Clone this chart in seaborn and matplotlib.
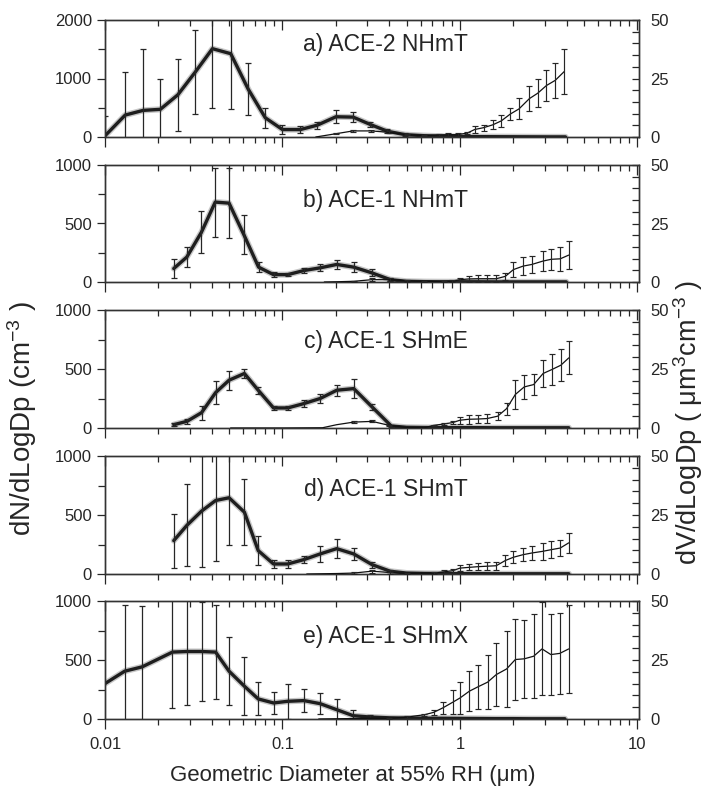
import numpy as np
import pandas as pd
import matplotlib
matplotlib.use("Agg")
import matplotlib.pyplot as plt
from matplotlib.ticker import MultipleLocator, LogLocator, NullFormatter, FixedLocator
import seaborn as sns

# ---------------- data ----------------
panel_titles = ["a) ACE-2 NHmT", "b) ACE-1 NHmT", "c) ACE-1 SHmE", "d) ACE-1 SHmT", "e) ACE-1 SHmX"]

# panel a
dp_num_a = [0.0100, 0.0130, 0.0164, 0.0205, 0.0257, 0.0322, 0.0403, 0.0511, 0.0641, 0.0800, 0.100, 0.126, 0.157,
            0.200, 0.250, 0.313, 0.390, 0.490, 0.620, 0.79, 1.0, 1.26, 1.58, 2.0, 2.51, 3.16, 3.93]
dn_a = [20, 375, 455, 473, 720, 1107, 1510, 1424, 818, 329, 127, 127, 202, 346, 340, 213, 98, 40, 23,
        12, 8, 6, 5, 4, 3, 2, 2]
dn_err_a = [340, 730, 1055, 520, 620, 720, 1010, 950, 450, 175, 75, 58, 58, 110, 86, 49, 35, 20, 12,
            0, 0, 0, 0, 0, 0, 0, 0]
dp_vol_a = [0.154, 0.200, 0.250, 0.316, 0.398, 0.50, 0.63, 0.76, 0.86, 0.97, 1.10, 1.21, 1.36, 1.53, 1.71,
            1.92, 2.15, 2.46, 2.74, 3.07, 3.44, 3.87]
dv_a = [0.0, 1.4, 2.6, 2.6, 2.0, 1.0, 0.6, 0.9, 1.0, 1.0, 1.7, 3.2, 4.0, 5.2, 6.9, 9.8, 12.0, 16.4, 18.7,
        22.0, 24.2, 28.0]
dv_err_a = [0, 0.3, 0.5, 0.5, 0.4, 0.3, 0.3, 0.5, 0.5, 0.5, 0.5, 1.6, 1.3, 1.9, 2.5, 2.7, 4.5, 5.4, 6.0,
            6.5, 7.5, 9.7]

# panel b
dp_num_b = [0.0244, 0.0289, 0.0349, 0.0418, 0.0500, 0.0604, 0.0733, 0.0890, 0.107, 0.132, 0.163, 0.202,
            0.252, 0.319, 0.405, 0.50, 0.63, 0.79, 1.0, 1.26, 1.58, 2.0, 2.51, 3.16, 3.97]
dn_b = [115, 213, 424, 683, 674, 409, 127, 63, 63, 98, 121, 150, 127, 78, 20, 6, 3, 2, 2, 2, 1, 1, 1, 1, 1]
dn_err_b = [82, 84, 180, 295, 300, 167, 43, 20, 12, 18, 30, 42, 40, 30, 10, 0, 0, 0, 0, 0, 0, 0, 0, 0, 0]
dp_vol_b = [0.172, 0.202, 0.252, 0.319, 0.405, 0.50, 0.63, 0.81, 0.90, 1.0, 1.12, 1.26, 1.42, 1.60, 1.80,
            2.0, 2.27, 2.54, 2.92, 3.26, 3.67, 4.1]
dv_b = [0.0, 0.1, 0.3, 1.0, 1.0, 0.5, 0.2, 0.2, 0.4, 1.0, 1.3, 1.4, 1.4, 1.4, 2.4, 5.3, 6.8, 7.5, 8.9, 9.7,
        9.9, 11.5]
dv_err_b = [0, 0, 0.2, 0.6, 0.5, 0.3, 0.2, 0.3, 0.4, 0.7, 1.3, 1.4, 1.4, 1.4, 1.5, 3.2, 4.0, 3.6, 4.2, 4.5,
            5.0, 5.9]

# panel c
dp_num_c = [0.0244, 0.029, 0.035, 0.042, 0.050, 0.061, 0.073, 0.089, 0.107, 0.132, 0.163, 0.202, 0.252,
            0.32, 0.41, 0.50, 0.63, 0.79, 1.0, 1.26, 1.58, 2.0, 2.51, 3.16, 4.1]
dn_c = [28, 57, 130, 300, 405, 462, 320, 170, 170, 207, 250, 320, 334, 178, 17, 6, 4, 3, 3, 3, 2, 2, 2, 2, 2]
dn_err_c = [15, 20, 60, 100, 80, 40, 30, 20, 20, 33, 35, 45, 80, 25, 8, 0, 0, 0, 0, 0, 0, 0, 0, 0, 0]
dp_vol_c = [0.051, 0.10, 0.168, 0.202, 0.252, 0.32, 0.40, 0.50, 0.63, 0.71, 0.81, 0.91, 1.0, 1.12, 1.26,
            1.42, 1.63, 1.83, 2.05, 2.3, 2.6, 2.94, 3.3, 3.7, 4.1]
dv_c = [0, 0, 0.1, 1.4, 2.5, 2.8, 1.1, 0.2, 0.1, 1.1, 1.7, 2.3, 3.3, 3.7, 3.8, 4.0, 5.0, 8.2, 14.2, 17.4,
        18.4, 23.1, 24.8, 26.6, 29.7]
dv_err_c = [0, 0, 0, 0, 0.3, 0.4, 0.3, 0, 0, 0.3, 0.4, 0.5, 1.4, 1.8, 1.8, 1.8, 1.8, 2.5, 6.0, 5.0, 4.6,
            5.7, 6.7, 6.7, 7.0]

# panel d
dp_num_d = [0.0244, 0.029, 0.035, 0.042, 0.050, 0.061, 0.073, 0.089, 0.107, 0.132, 0.163, 0.202, 0.252,
            0.32, 0.405, 0.50, 0.63, 0.79, 1.0, 1.26, 1.58, 2.0, 2.51, 3.16, 4.1]
dn_d = [283, 414, 533, 623, 646, 524, 198, 85, 85, 122, 170, 215, 170, 79, 23, 8, 5, 4, 3, 3, 2, 2, 2, 2, 2]
dn_err_d = [228, 350, 470, 510, 400, 280, 120, 35, 30, 30, 65, 80, 50, 25, 10, 0, 0, 0, 0, 0, 0, 0, 0, 0, 0]
dp_vol_d = [0.137, 0.202, 0.252, 0.32, 0.405, 0.50, 0.71, 0.81, 0.91, 1.0, 1.12, 1.26, 1.42, 1.60, 1.80,
            2.0, 2.27, 2.54, 2.92, 3.26, 3.67, 4.1]
dv_d = [0, 0.2, 0.4, 1.2, 0.6, 0.3, 0.4, 0.9, 1.4, 2.5, 2.8, 3.1, 3.3, 3.5, 5.7, 7.1, 8.2, 8.9, 9.6, 10.3,
        11.0, 13.2]
dv_err_d = [0, 0, 0.3, 0.6, 0.4, 0.3, 0.5, 0.6, 0.8, 1.2, 1.3, 1.5, 1.6, 1.7, 2.5, 2.6, 2.7, 3.0, 3.5, 3.7,
            3.5, 4.3]

# panel e
dp_num_e = [0.0100, 0.0129, 0.0162, 0.024, 0.029, 0.035, 0.042, 0.050, 0.061, 0.073, 0.089, 0.107, 0.132,
            0.163, 0.202, 0.25, 0.31, 0.40, 0.50, 0.63, 0.79, 1.0, 1.26, 1.58, 2.0, 2.51, 3.16, 3.9]
dn_e = [300, 405, 442, 567, 572, 572, 567, 405, 278, 170, 136, 150, 156, 130, 79, 28, 17, 10, 8, 7, 6, 5, 4,
        3, 3, 2, 2, 2]
dn_err_e = [0, 560, 515, 478, 450, 420, 395, 290, 245, 140, 90, 150, 95, 90, 90, 45, 15, 0, 0, 0, 0, 0, 0,
            0, 0, 0, 0, 0]
dp_vol_e = [0.16, 0.20, 0.25, 0.32, 0.40, 0.50, 0.63, 0.71, 0.80, 0.91, 1.0, 1.13, 1.26, 1.43, 1.60, 1.83,
            2.05, 2.3, 2.6, 2.9, 3.25, 3.65, 4.1]
dv_e = [0, 0.1, 0.2, 0.3, 0.3, 0.8, 1.8, 2.8, 4.7, 7.1, 8.9, 11.8, 13.6, 15.6, 18.8, 21.2, 25.2, 25.5, 26.6,
        29.7, 27.3, 27.8, 29.7]
dv_err_e = [0, 0, 0, 0, 0.3, 0.5, 0.5, 1.0, 2.6, 5.0, 6.6, 8.5, 9.2, 11.5, 13.5, 16.0, 17.0, 16.6, 17.7,
            19.7, 17.0, 17.3, 18.6]

left_ylim = [2000, 1000, 1000, 1000, 1000]
right_ylim = [50, 50, 50, 50, 50]
x_tick_labels = ["0.01", "0.1", "1", "10"]
x_label = "Geometric Diameter at 55% RH (\u03bcm)"
y_label_left = "dN/dLogDp (cm$^{\\mathrm{-3}}$ )"
y_label_right = "dV/dLogDp ( \u03bcm$^{\\mathrm{3}}$cm$^{\\mathrm{-3}}$ )"

panels = [
    (dp_num_a, dn_a, dn_err_a, dp_vol_a, dv_a, dv_err_a),
    (dp_num_b, dn_b, dn_err_b, dp_vol_b, dv_b, dv_err_b),
    (dp_num_c, dn_c, dn_err_c, dp_vol_c, dv_c, dv_err_c),
    (dp_num_d, dn_d, dn_err_d, dp_vol_d, dv_d, dv_err_d),
    (dp_num_e, dn_e, dn_err_e, dp_vol_e, dv_e, dv_err_e),
]

# ---------------- style ----------------
sns.set_style("ticks")
plt.rcParams["font.family"] = ["Liberation Sans", "DejaVu Sans"]
plt.rcParams["mathtext.fontset"] = "custom"
plt.rcParams["mathtext.rm"] = "Liberation Sans"
plt.rcParams["mathtext.it"] = "Liberation Sans:italic"
plt.rcParams["mathtext.bf"] = "Liberation Sans:bold"
INK = "#262626"

W_PX, H_PX = 705, 798
fig = plt.figure(figsize=(W_PX / 100, H_PX / 100), dpi=100)

ax_left_px, ax_right_px = 105, 639
panel_px = [(20, 137), (165, 282), (310, 428), (456, 574), (601, 719)]
title_y = [0.79, 0.70, 0.73, 0.72, 0.70]

for i, (dpn, dn, dne, dpv, dv, dve) in enumerate(panels):
    top, bot = panel_px[i]
    ax = fig.add_axes([ax_left_px / W_PX, 1 - bot / H_PX, (ax_right_px - ax_left_px) / W_PX, (bot - top) / H_PX])
    ax.set_xscale("log")
    ax2 = ax.twinx()

    num = pd.DataFrame({"dp": dpn, "val": dn, "err": dne})
    vol = pd.DataFrame({"dp": dpv, "val": dv, "err": dve})

    # number distribution (thick line, left axis)
    sns.lineplot(data=num, x="dp", y="val", ax=ax, color="#9a9a9a", lw=4.4, alpha=0.55,
                 sort=False, estimator=None, zorder=2)
    sns.lineplot(data=num, x="dp", y="val", ax=ax, color="#1e1e1e", lw=2.4,
                 sort=False, estimator=None, zorder=3)
    m = num["err"] > 0
    ax.errorbar(num.loc[m, "dp"], num.loc[m, "val"], yerr=num.loc[m, "err"], fmt="none",
                ecolor=INK, elinewidth=0.9, capsize=2.3, capthick=0.9, zorder=4)

    # volume distribution (thin line, right axis)
    sns.lineplot(data=vol, x="dp", y="val", ax=ax2, color="#111111", lw=0.9,
                 sort=False, estimator=None, zorder=3)
    mv = vol["err"] > 0
    ax2.errorbar(vol.loc[mv, "dp"], vol.loc[mv, "val"], yerr=vol.loc[mv, "err"], fmt="none",
                 ecolor=INK, elinewidth=0.85, capsize=2.2, capthick=0.85, zorder=4)

    ax.set_xlim(0.01, 10.2)
    ax.set_ylim(0, left_ylim[i])
    ax2.set_ylim(0, right_ylim[i])
    ax.set_xlabel("")
    ax.set_ylabel("")
    ax2.set_xlabel("")
    ax2.set_ylabel("")

    # left y ticks
    ax.set_yticks([0, left_ylim[i] / 2, left_ylim[i]])
    ax.set_yticklabels([f"{int(v)}" for v in [0, left_ylim[i] / 2, left_ylim[i]]])
    ax.yaxis.set_minor_locator(MultipleLocator(left_ylim[i] / 4))
    ax.tick_params(axis="y", which="both", direction="out", left=True, right=False,
                   labelsize=12, colors=INK, width=0.9)
    ax.tick_params(axis="y", which="major", length=6)
    ax.tick_params(axis="y", which="minor", length=5)

    # right y ticks
    ax2.set_yticks([0, 25, 50])
    ax2.set_yticklabels(["0", "25", "50"])
    ax2.yaxis.set_minor_locator(MultipleLocator(5))
    ax2.tick_params(axis="y", which="both", direction="in", right=True, left=False,
                    labelsize=12, colors=INK, width=0.9, length=5, pad=8)

    # x ticks: bottom outward, top inward
    ax.xaxis.set_major_locator(FixedLocator([0.01, 0.1, 1, 10]))
    ax.xaxis.set_minor_locator(LogLocator(base=10, subs=np.arange(2, 10), numticks=20))
    ax.xaxis.set_minor_formatter(NullFormatter())
    ax.tick_params(axis="x", which="both", direction="out", bottom=True, top=False,
                   labelsize=12, colors=INK, width=0.9, pad=6)
    ax.tick_params(axis="x", which="major", length=7)
    ax.tick_params(axis="x", which="minor", length=4.5)
    ax2.xaxis.set_visible(True)
    ax2.tick_params(axis="x", which="both", direction="in", top=True, bottom=False,
                    labeltop=False, labelbottom=False, colors=INK, width=0.9)
    ax2.tick_params(axis="x", which="major", length=7)
    ax2.tick_params(axis="x", which="minor", length=4.5)

    if i == len(panels) - 1:
        ax.set_xticklabels(x_tick_labels)
    else:
        ax.set_xticklabels([])

    for a in (ax, ax2):
        for s in a.spines.values():
            s.set_linewidth(1.0)
            s.set_color("#333333")

    ax.text(0.68, title_y[i], panel_titles[i], transform=ax.transAxes, ha="right", va="center",
            fontsize=16.5, color=INK)

fig.text(353 / W_PX, 1 - 776 / H_PX, x_label, ha="center", va="center", fontsize=16, color=INK)
fig.text(22 / W_PX, 1 - 419 / H_PX, y_label_left, ha="center", va="center", rotation=90,
         fontsize=20, color=INK)
fig.text(688 / W_PX, 1 - 422 / H_PX, y_label_right, ha="center", va="center", rotation=90,
         fontsize=19.5, color=INK)

fig.savefig("out.png", dpi=100)
